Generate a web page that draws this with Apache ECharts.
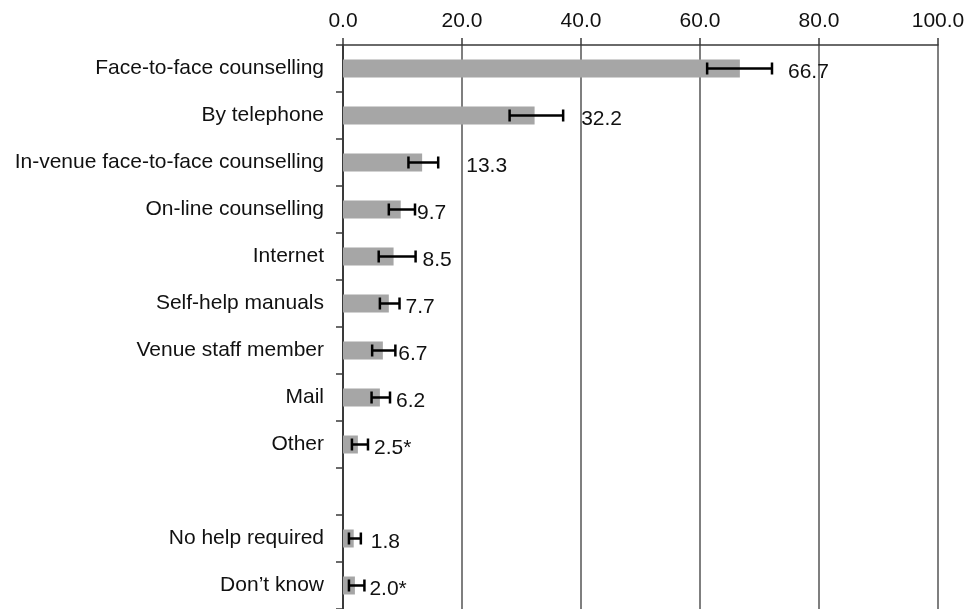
<!DOCTYPE html>
<html><head><meta charset="utf-8">
<script src="https://cdn.jsdelivr.net/npm/echarts@6/dist/echarts.min.js"></script>
<style>html,body{margin:0;padding:0;background:#fff}#c{width:968px;height:609px}</style>
</head><body><div id="c"></div>
<script>
const categories = ['Face-to-face counselling','By telephone','In-venue face-to-face counselling','On-line counselling','Internet','Self-help manuals','Venue staff member','Mail','Other','','No help required','Don\u2019t know'];
const values = [66.7,32.2,13.3,9.7,8.5,7.7,6.7,6.2,2.5,null,1.8,2.0];
const errLow = [61.2,28.0,11.0,7.7,6.0,6.2,4.9,4.8,1.5,null,1.0,1.0];
const errHigh = [72.1,37.0,16.0,12.1,12.2,9.5,8.8,7.9,4.2,null,3.0,3.6];
const valueLabels = ['66.7','32.2','13.3','9.7','8.5','7.7','6.7','6.2','2.5*','','1.8','2.0*'];
const labelGap = [16,18,28,2,7,6,3,6,6,0,10,5];

const FONT = '"Liberation Sans", Arial, sans-serif';
const chart = echarts.init(document.getElementById('c'));
const errData = [];
categories.forEach((c,i)=>{ if(errLow[i]!=null) errData.push([i, errLow[i], errHigh[i]]); });

chart.setOption({
  animation:false,
  grid:{left:343,right:30,top:45,height:566,containLabel:false},
  xAxis:{type:'value',position:'top',min:0,max:100,interval:20,
    axisLine:{show:true,lineStyle:{color:'#3a3a3a',width:1.5}},
    axisTick:{show:true,length:7,lineStyle:{color:'#3a3a3a',width:1.5}},
    axisLabel:{formatter:v=>v.toFixed(1),fontSize:21,color:'#111',fontFamily:FONT,margin:13},
    splitLine:{show:true,lineStyle:{color:'#555',width:1.5}}},
  yAxis:{type:'category',inverse:true,data:categories,
    axisLine:{show:true,onZero:false,lineStyle:{color:'#3a3a3a',width:2}},
    axisTick:{show:true,length:7,lineStyle:{color:'#3a3a3a',width:1.5}},
    axisLabel:{fontSize:21,color:'#111',fontFamily:FONT,margin:19,padding:[4,0,0,0]}},
  series:[
    {type:'bar',data:values,barWidth:18,itemStyle:{color:'#a6a6a6'},silent:true},
    {type:'custom',data:errData,encode:{x:[1,2],y:0},z:5,silent:true,
      renderItem:function(params,api){
        const i=api.value(0);
        const lo=api.coord([api.value(1),i]);
        const hi=api.coord([api.value(2),i]);
        const y=lo[1], h=6;
        const ls={stroke:'#000',lineWidth:2.5};
        return {type:'group',children:[
          {type:'line',shape:{x1:lo[0],y1:y,x2:hi[0],y2:y},style:ls},
          {type:'line',shape:{x1:lo[0],y1:y-h,x2:lo[0],y2:y+h},style:ls},
          {type:'line',shape:{x1:hi[0],y1:y-h,x2:hi[0],y2:y+h},style:ls},
          {type:'text',style:{text:valueLabels[i],x:hi[0]+labelGap[i],y:y+4,verticalAlign:'middle',align:'left',fill:'#111',fontSize:21,fontFamily:FONT}}
        ]};
      }}
  ]
});
</script></body></html>
